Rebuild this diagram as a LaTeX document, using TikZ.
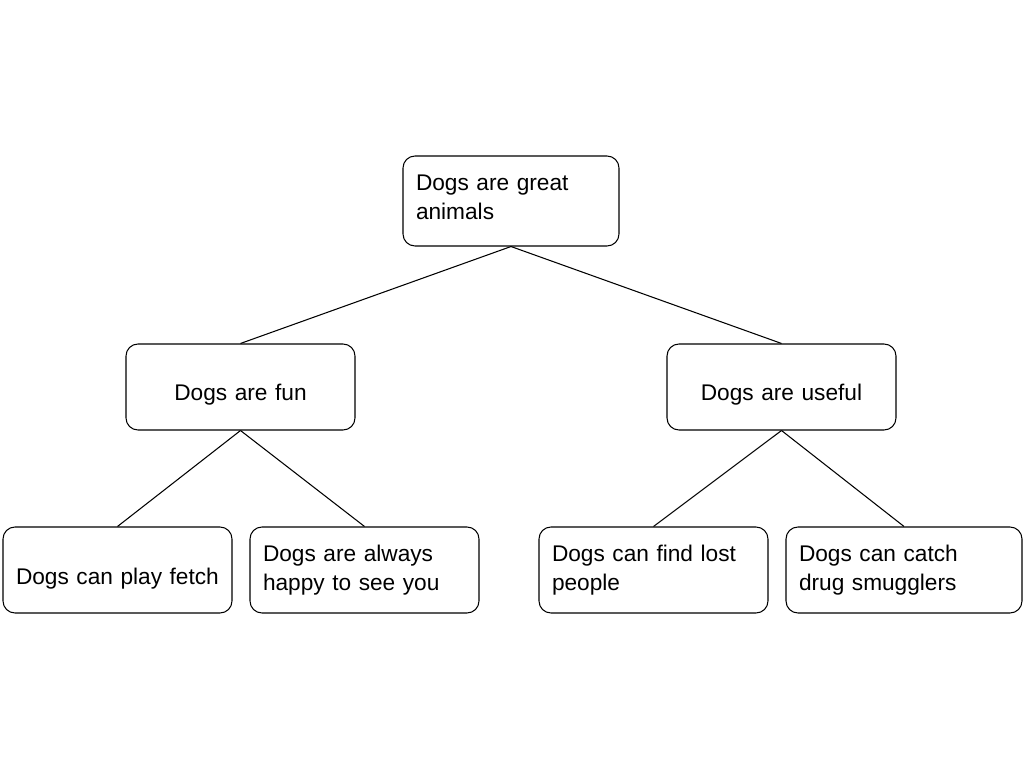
\documentclass[tikz,border=0pt]{standalone}
\usepackage{fontspec}
\setmainfont{Liberation Sans}
\newcommand{\vmove}[2]{\raisebox{#1}[\height][\depth]{\begin{tabular}{@{}l@{}}#2\end{tabular}}}
\begin{document}
\begin{tikzpicture}[x=0.1mm,y=-0.1mm,
  box/.style={draw, rounded corners=1.2mm, line width=0.3pt, inner xsep=1.3mm, inner ysep=0pt,
    minimum height=8.6mm, align=left, font=\fontsize{6.45pt}{8.25pt}\selectfont},
  link/.style={line width=0.3pt}]
\useasboundingbox (0,0) rectangle (1024,768);
\node[box, text width=19.0mm, minimum height=9.0mm] (root) at (511,201) {\vmove{0.2mm}{Dogs are great\\animals}};
\node[box, text width=20.3mm, align=center] (fun) at (240.5,387) {\vmove{-0.8mm}{Dogs are fun}};
\node[box, text width=20.3mm, align=center] (useful) at (781.5,387) {\vmove{-0.8mm}{Dogs are useful}};
\node[box, text width=20.3mm] (fetch) at (117.5,570) {\vmove{-0.9mm}{Dogs can play fetch}};
\node[box, text width=20.3mm] (always) at (364.5,570) {Dogs are always\\happy to see you};
\node[box, text width=20.3mm] (lost) at (653.5,570) {Dogs can find lost\\people};
\node[box, text width=21.0mm] (catch) at (904,570) {Dogs can catch\\drug smugglers};
\draw[link] (root.south) -- (fun.north);
\draw[link] (root.south) -- (useful.north);
\draw[link] (fun.south) -- (fetch.north);
\draw[link] (fun.south) -- (always.north);
\draw[link] (useful.south) -- (lost.north);
\draw[link] (useful.south) -- (catch.north);
\end{tikzpicture}
\end{document}
